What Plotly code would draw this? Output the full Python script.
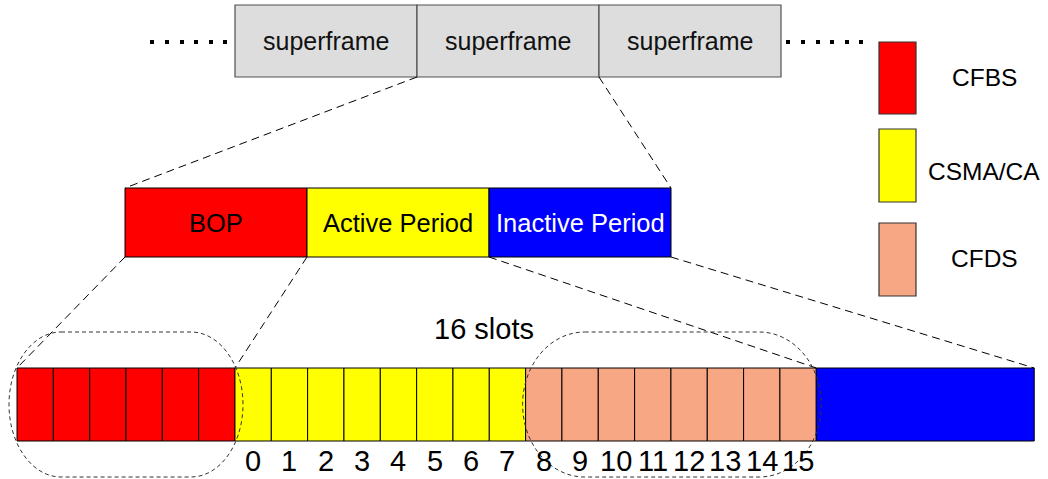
import plotly.graph_objects as go

# ---------------- data ----------------
superframe_labels = ["superframe", "superframe", "superframe"]
period_labels = ["BOP", "Active Period", "Inactive Period"]
period_colors = ["#FF0000", "#FFFF00", "#0000FF"]
period_text_colors = ["#000000", "#000000", "#FFFFFF"]
slot_group_counts = [6, 8, 8, 6]          # CFBS, CSMA/CA, CFDS, inactive
slot_group_colors = ["#FF0000", "#FFFF00", "#F8A785", "#0000FF"]
slot_group_divided = [True, True, True, False]
slot_numbers = [str(i) for i in range(16)]
legend_labels = ["CFBS", "CSMA/CA", "CFDS"]
legend_colors = ["#FF0000", "#FFFF00", "#F8A785"]
slots_title = "16 slots"

FONT = "Liberation Sans, Arial, sans-serif"
W, H = 1048, 479

shapes = []
annotations = []

def rect(x0, y0, x1, y1, fill, line="#000000", lw=1):
    shapes.append(dict(type="rect", xref="x", yref="y", x0=x0, y0=y0, x1=x1, y1=y1,
                       fillcolor=fill, line=dict(color=line, width=lw), layer="below"))

def text(x, y, s, size, color="#000000", xanchor="center"):
    annotations.append(dict(x=x, y=y, xref="x", yref="y", text=s, showarrow=False,
                            xanchor=xanchor, yanchor="middle",
                            font=dict(family=FONT, size=size, color=color)))

def dline(x0, y0, x1, y1, dash="8px,5px", color="#000000", w=1):
    shapes.append(dict(type="line", xref="x", yref="y", x0=x0, y0=y0, x1=x1, y1=y1,
                       line=dict(color=color, width=w, dash=dash)))

# ---------------- top: superframes ----------------
sf_x0, sf_w, sf_y0, sf_y1 = 235, 182, 5, 77
for i, lab in enumerate(superframe_labels):
    x0 = sf_x0 + i * sf_w
    rect(x0, sf_y0, x0 + sf_w, sf_y1, "#DDDDDD", line="#505050", lw=1.2)
    text(x0 + sf_w / 2, (sf_y0 + sf_y1) / 2, lab, 25, "#111111")

# ---------------- middle: periods ----------------
pm_x0, pm_w, pm_y0, pm_y1 = 125, 182, 188, 257
for i, lab in enumerate(period_labels):
    x0 = pm_x0 + i * pm_w
    rect(x0, pm_y0, x0 + pm_w, pm_y1, period_colors[i], lw=1)
    text(x0 + pm_w / 2, (pm_y0 + pm_y1) / 2, lab, 25.5, period_text_colors[i])

# ---------------- bottom: slots ----------------
sl_x0, sl_w, sl_y0, sl_y1 = 17, 36.33, 368, 441
x = sl_x0
group_edges = [x]
for n, col, div in zip(slot_group_counts, slot_group_colors, slot_group_divided):
    if div:
        for k in range(n):
            rect(x + k * sl_w, sl_y0, x + (k + 1) * sl_w, sl_y1, col, lw=1)
    else:
        rect(x, sl_y0, x + n * sl_w, sl_y1, col, lw=1)
    x += n * sl_w
    group_edges.append(x)

# slot number labels under CSMA/CA + CFDS slots
for i, s in enumerate(slot_numbers):
    cx = group_edges[1] + (i + 0.5) * sl_w
    text(cx, 461, s, 29)

# "16 slots"
text(group_edges[1] + 8 * sl_w - 42, 329, slots_title, 29)

# ---------------- dashed connectors ----------------
mid_sf_l = sf_x0 + sf_w
mid_sf_r = sf_x0 + 2 * sf_w
dline(mid_sf_l, sf_y1, pm_x0, pm_y0)
dline(mid_sf_r, sf_y1, pm_x0 + 3 * pm_w, pm_y0)
dline(pm_x0, pm_y1, group_edges[0], sl_y0)
dline(pm_x0 + pm_w, pm_y1, group_edges[1], sl_y0)
dline(pm_x0 + 2 * pm_w, pm_y1, group_edges[3], sl_y0)
dline(pm_x0 + 3 * pm_w, pm_y1, group_edges[4], sl_y0)

# ---------------- dashed rounded enclosures ----------------
def stadium(x0, x1, y0, y1, rx):
    k = 0.5523
    ym = (y0 + y1) / 2
    ry = (y1 - y0) / 2
    p = f"M {x0+rx},{y0} L {x1-rx},{y0} "
    p += f"C {x1-rx+k*rx},{y0} {x1},{ym-k*ry} {x1},{ym} "
    p += f"C {x1},{ym+k*ry} {x1-rx+k*rx},{y1} {x1-rx},{y1} "
    p += f"L {x0+rx},{y1} "
    p += f"C {x0+rx-k*rx},{y1} {x0},{ym+k*ry} {x0},{ym} "
    p += f"C {x0},{ym-k*ry} {x0+rx-k*rx},{y0} {x0+rx},{y0} Z"
    shapes.append(dict(type="path", xref="x", yref="y", path=p,
                       line=dict(color="#333333", width=1, dash="4px,3px")))

stadium(group_edges[0] - 8, group_edges[1] + 8, 332, 477, 52)
stadium(group_edges[2] - 3, group_edges[3] + 5, 332, 477, 62)

# ---------------- legend ----------------
lg_x0, lg_x1 = 879, 916
lg_boxes = [(42, 114), (129, 202), (223, 296)]
lg_text_y = [77, 171, 258]
for (y0, y1), ty, lab, col in zip(lg_boxes, lg_text_y, legend_labels, legend_colors):
    rect(lg_x0, y0, lg_x1, y1, col, line="#333333", lw=1.2)
    text(984, ty, lab, 24.5)

fig = go.Figure()

# dotted continuation marks
dots_left = [152, 167, 182, 196, 211, 225]
dots_right = [788, 803, 818, 832, 847, 861]
fig.add_trace(go.Scatter(x=dots_left + dots_right, y=[42] * 12, mode="markers",
                         marker=dict(symbol="square", size=4, color="#000000"),
                         hoverinfo="skip", showlegend=False))

fig.update_layout(
    width=W, height=H, margin=dict(l=0, r=0, t=0, b=0),
    paper_bgcolor="#FFFFFF", plot_bgcolor="#FFFFFF",
    xaxis=dict(range=[0, W], visible=False, fixedrange=True),
    yaxis=dict(range=[H, 0], visible=False, fixedrange=True),
    shapes=shapes, annotations=annotations, showlegend=False,
)
fig.write_html("out.html", config={"displayModeBar": False},
               post_script="document.body.style.margin='0';document.body.style.overflow='hidden';")
